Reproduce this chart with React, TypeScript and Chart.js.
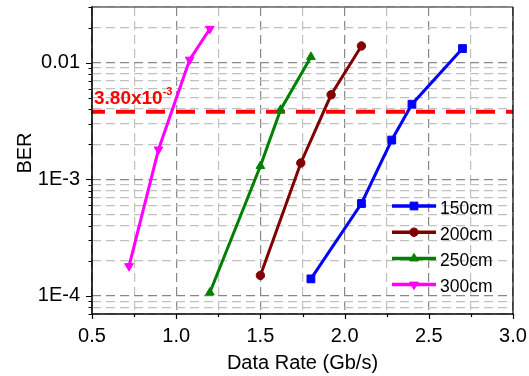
import React, { useEffect, useRef } from 'react';
import { Chart, registerables } from 'chart.js';
import { drawPoint } from 'chart.js/helpers';

Chart.register(...registerables);

// ---- data ----
const seriesNames = ['150cm', '200cm', '250cm', '300cm'];
const rate150 = [1.8, 2.1, 2.28, 2.4, 2.7];
const ber150 = [1.4e-4, 6.2e-4, 2.17e-3, 4.4e-3, 1.32e-2];
const rate200 = [1.5, 1.74, 1.92, 2.1];
const ber200 = [1.5e-4, 1.38e-3, 5.3e-3, 1.39e-2];
const rate250 = [1.2, 1.5, 1.62, 1.8];
const ber250 = [1.07e-4, 1.3e-3, 3.95e-3, 1.12e-2];
const rate300 = [0.72, 0.895, 1.08, 1.2];
const ber300 = [1.8e-4, 1.8e-3, 1.06e-2, 1.95e-2];

const thresholdBER = 3.8e-3;
const thresholdText = '3.80x10';
const thresholdExp = '-3';

const xMin = 0.5;
const xMax = 3.0;
const xStep = 0.25;
const xMajorValues = [0.5, 1.0, 1.5, 2.0, 2.5, 3.0];
const xMajorLabels = ['0.5', '1.0', '1.5', '2.0', '2.5', '3.0'];

const yMin = 7e-5;
const yMax = 0.03;
const yGridValues = [
  7e-5, 8e-5, 9e-5,
  1e-4, 2e-4, 3e-4, 4e-4, 5e-4, 6e-4, 7e-4, 8e-4, 9e-4,
  1e-3, 2e-3, 3e-3, 4e-3, 5e-3, 6e-3, 7e-3, 8e-3, 9e-3,
  1e-2, 2e-2, 3e-2,
];
const yMajorValues = [1e-4, 1e-3, 1e-2];
const yMajorLabels = ['1E-4', '1E-3', '0.01'];

const xTitle = 'Data Rate (Gb/s)';
const yTitle = 'BER';

// ---- styles ----
const FONT = "'Liberation Sans', Arial, sans-serif";
const colors = ['#0000ff', '#800000', '#008000', '#ff00ff'];
const pointStyles = ['rect', 'circle', 'triangle', 'triangle'];
const rotations = [0, 0, 0, 180];
const radii = [5.5, 4.2, 5, 5];

const toXY = (xs: number[], ys: number[]) => xs.map((x, i) => ({ x, y: ys[i] }));
const isYMajor = (v: number) => yMajorValues.some((m) => Math.abs(m - v) / m < 1e-6);
const isXMajor = (v: number) => xMajorValues.some((m) => Math.abs(m - v) < 1e-6);

const zeroPadding = (s: any) => {
  s.paddingLeft = 0;
  s.paddingRight = 0;
  s.paddingTop = 0;
  s.paddingBottom = 0;
};

const decorPlugin = {
  id: 'decor',
  afterDraw(chart: any) {
    const ctx = chart.ctx as CanvasRenderingContext2D;
    const { left, right, top, bottom } = chart.chartArea;
    const xs = chart.scales.x;
    const ys = chart.scales.y;

    ctx.save();
    // frame
    ctx.lineCap = 'butt';
    ctx.strokeStyle = '#666';
    ctx.lineWidth = 1.5;
    ctx.beginPath();
    ctx.moveTo(left, top);
    ctx.lineTo(right, top);
    ctx.stroke();
    ctx.strokeStyle = '#000';
    ctx.lineWidth = 1.2;
    ctx.beginPath();
    ctx.moveTo(right, top);
    ctx.lineTo(right, bottom);
    ctx.stroke();
    ctx.lineWidth = 1.6;
    ctx.beginPath();
    ctx.moveTo(left, top - 0.7);
    ctx.lineTo(left, bottom);
    ctx.lineTo(right + 0.6, bottom);
    ctx.stroke();

    // tick marks
    ctx.lineWidth = 1.2;
    ctx.beginPath();
    yGridValues.forEach((v) => {
      const y = Math.round(ys.getPixelForValue(v)) + 0.5;
      const len = isYMajor(v) ? 6 : 3.5;
      ctx.moveTo(left - len, y);
      ctx.lineTo(left, y);
    });
    for (let v = xMin; v <= xMax + 1e-9; v += xStep) {
      const x = Math.round(xs.getPixelForValue(v)) + 0.5;
      const len = isXMajor(v) ? 5 : 3;
      ctx.moveTo(x, bottom);
      ctx.lineTo(x, bottom + len);
    }
    ctx.stroke();

    // axis titles
    ctx.fillStyle = '#000';
    ctx.font = `20px ${FONT}`;
    ctx.textAlign = 'center';
    ctx.textBaseline = 'alphabetic';
    ctx.fillText(xTitle, (left + right) / 2, 369);
    ctx.save();
    ctx.translate(31, 153);
    ctx.rotate(-Math.PI / 2);
    ctx.fillText(yTitle, 0, 0);
    ctx.restore();

    // threshold label
    const ty = ys.getPixelForValue(thresholdBER);
    ctx.fillStyle = '#ff0000';
    ctx.textAlign = 'left';
    ctx.font = `bold 19px ${FONT}`;
    ctx.fillText(thresholdText, left + 2, ty - 7.5);
    const w = ctx.measureText(thresholdText).width;
    ctx.font = `bold 11px ${FONT}`;
    ctx.fillText(thresholdExp, left + 2 + w, ty - 17);

    // legend
    const lx0 = 392;
    const lx1 = 436;
    const ly0 = 206;
    const step = 26.2;
    seriesNames.forEach((name, i) => {
      const y = ly0 + i * step;
      ctx.strokeStyle = colors[i];
      ctx.fillStyle = colors[i];
      ctx.lineWidth = 3.5;
      ctx.beginPath();
      ctx.moveTo(lx0, y);
      ctx.lineTo(lx1, y);
      ctx.stroke();
      ctx.lineWidth = 1;
      drawPoint(ctx, { pointStyle: pointStyles[i], rotation: rotations[i], radius: radii[i], borderWidth: 1 } as any, (lx0 + lx1) / 2, y);
      ctx.fillStyle = '#000';
      ctx.font = `17.5px ${FONT}`;
      ctx.textAlign = 'left';
      ctx.fillText(name, 440, y + 7.5);
    });
    ctx.restore();
  },
};

export default function App() {
  const ref = useRef<HTMLCanvasElement | null>(null);

  useEffect(() => {
    if (!ref.current) return;
    const allX = [rate150, rate200, rate250, rate300];
    const allY = [ber150, ber200, ber250, ber300];
    const datasets: any[] = seriesNames.map((name, i) => ({
      label: name,
      data: toXY(allX[i], allY[i]),
      borderColor: colors[i],
      backgroundColor: colors[i],
      borderWidth: 3,
      pointStyle: pointStyles[i],
      rotation: rotations[i],
      pointRadius: radii[i],
      pointBorderWidth: 1,
      pointBackgroundColor: colors[i],
      pointBorderColor: colors[i],
      tension: 0,
    }));
    datasets.push({
      label: 'threshold',
      data: [
        { x: xMin, y: thresholdBER },
        { x: xMax, y: thresholdBER },
      ],
      borderColor: '#ff0000',
      borderWidth: 4,
      borderDash: [19, 11],
      borderDashOffset: 6,
      pointRadius: 0,
    });

    const chart = new Chart(ref.current, {
      type: 'line',
      data: { datasets },
      plugins: [decorPlugin],
      options: {
        animation: false,
        responsive: false,
        events: [],
        layout: { padding: { left: 0, top: 7, right: 16, bottom: 0 } },
        plugins: { legend: { display: false }, tooltip: { enabled: false }, title: { display: false } },
        scales: {
          x: {
            type: 'linear',
            min: xMin,
            max: xMax,
            afterFit: (s: any) => {
              s.height = 62;
              zeroPadding(s);
            },
            ticks: {
              stepSize: xStep,
              autoSkip: false,
              maxRotation: 0,
              padding: 10,
              color: '#000',
              font: { family: FONT, size: 20 },
              callback: (v: any) => {
                const idx = xMajorValues.findIndex((m) => Math.abs(m - Number(v)) < 1e-6);
                return idx >= 0 ? xMajorLabels[idx] : '';
              },
            },
            grid: {
              drawTicks: false,
              lineWidth: 1.2,
              color: (c: any) => (isXMajor(c.tick?.value ?? 0) ? '#888888' : '#c0c0c0'),
            },
            border: { display: false, dash: [9, 5] },
          },
          y: {
            type: 'logarithmic',
            min: yMin,
            max: yMax,
            afterBuildTicks: (s: any) => {
              s.ticks = yGridValues.map((v) => ({ value: v }));
            },
            afterFit: (s: any) => {
              s.width = 92;
              zeroPadding(s);
            },
            ticks: {
              autoSkip: false,
              padding: 12,
              color: '#000',
              font: { family: FONT, size: 20 },
              callback: (v: any) => {
                const idx = yMajorValues.findIndex((m) => Math.abs(m - Number(v)) / m < 1e-6);
                return idx >= 0 ? yMajorLabels[idx] : '';
              },
            },
            grid: {
              drawTicks: false,
              lineWidth: 1.2,
              color: (c: any) => (isYMajor(c.tick?.value ?? 1) ? '#888888' : '#c0c0c0'),
            },
            border: { display: false, dash: [9, 5] },
          },
        },
      },
    });
    return () => chart.destroy();
  }, []);

  return (
    <div style={{ position: 'absolute', left: 0, top: 0, width: 529, height: 376, background: '#fff' }}>
      <canvas ref={ref} width={529} height={376} style={{ display: 'block' }} />
    </div>
  );
}
